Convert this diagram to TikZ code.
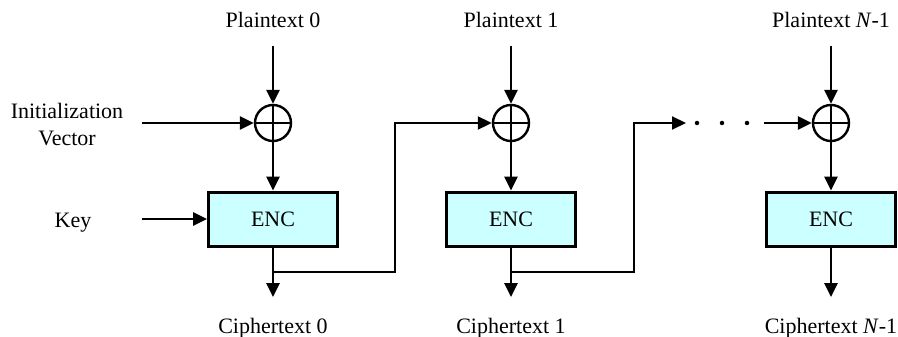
\documentclass[tikz,border=0pt]{standalone}
\usepackage{fontspec}
\setmainfont{Liberation Serif}
\usetikzlibrary{arrows.meta}
\definecolor{encfill}{RGB}{204,255,255}
\begin{document}
\begin{tikzpicture}[x=1pt,y=-1pt,
  every node/.style={font=\fontsize{22}{26}\selectfont},
  wire/.style={line width=2.6pt},
  thin wire/.style={line width=2.1pt},
  arr/.style={wire,-{Triangle[length=14pt,width=13pt]}},
  xor/.style={circle,draw,line width=2.4pt,minimum size=36pt,inner sep=0pt},
  enc/.style={draw,line width=3pt,fill=encfill,minimum width=129pt,minimum height=54pt,inner sep=0pt},
  lbl/.style={anchor=base,inner sep=0pt},
  dot/.style={circle,fill,inner sep=0pt,minimum size=4.5pt}]
\useasboundingbox (0,0) rectangle (898,337);

% three CBC stages: XOR then encryption
\foreach \i/\x in {1/273,2/511,3/831}{
  \node[xor] (x\i) at (\x,123) {};
  \draw[wire] (x\i.north) -- (x\i.south) (x\i.west) -- (x\i.east);
  \node[enc] (e\i) at (\x,219) {ENC};
  \coordinate (p\i) at (\x,46);
  \coordinate (c\i) at (\x,297);
  \draw[arr] (p\i) -- (x\i);
  \draw[arr] (x\i) -- (e\i);
  \draw[arr] (e\i) -- (c\i);
}

% labels
\node[lbl] (pt1) at (273,28) {Plaintext 0};
\node[lbl] (pt2) at (511,28) {Plaintext 1};
\node[lbl] (pt3) at (831,28) {Plaintext \textit{N}-1};
\node[lbl] (ct1) at (273,333) {Ciphertext 0};
\node[lbl] (ct2) at (511,333) {Ciphertext 1};
\node[lbl] (ct3) at (831,333) {Ciphertext \textit{N}-1};
\node[lbl] (iv1) at (67,119) {Initialization};
\node[lbl] (iv2) at (67,146) {Vector};
\node[lbl] (key) at (73,227) {Key};

% inputs
\coordinate (ivs) at (142,123);
\coordinate (ks) at (142,219);
\draw[arr] (ivs) -- (x1.west);
\draw[arr] (ks) -- (e1.west);

% chaining paths
\coordinate (b1) at (273,272);
\coordinate (t1) at (395,123);
\draw[thin wire,-{Triangle[length=14pt,width=13pt]}] (b1) -| (t1) -- (x2.west);
\coordinate (b2) at (511,272);
\coordinate (t2) at (634,123);
\coordinate (d0) at (686,123);
\draw[thin wire,-{Triangle[length=14pt,width=13pt]}] (b2) -| (t2) -- (d0);
\node[dot] (d1) at (697,123) {};
\node[dot] (d2) at (722,123) {};
\node[dot] (d3) at (747,123) {};
\coordinate (d4) at (764,123);
\draw[arr] (d4) -- (x3.west);
\end{tikzpicture}
\end{document}
